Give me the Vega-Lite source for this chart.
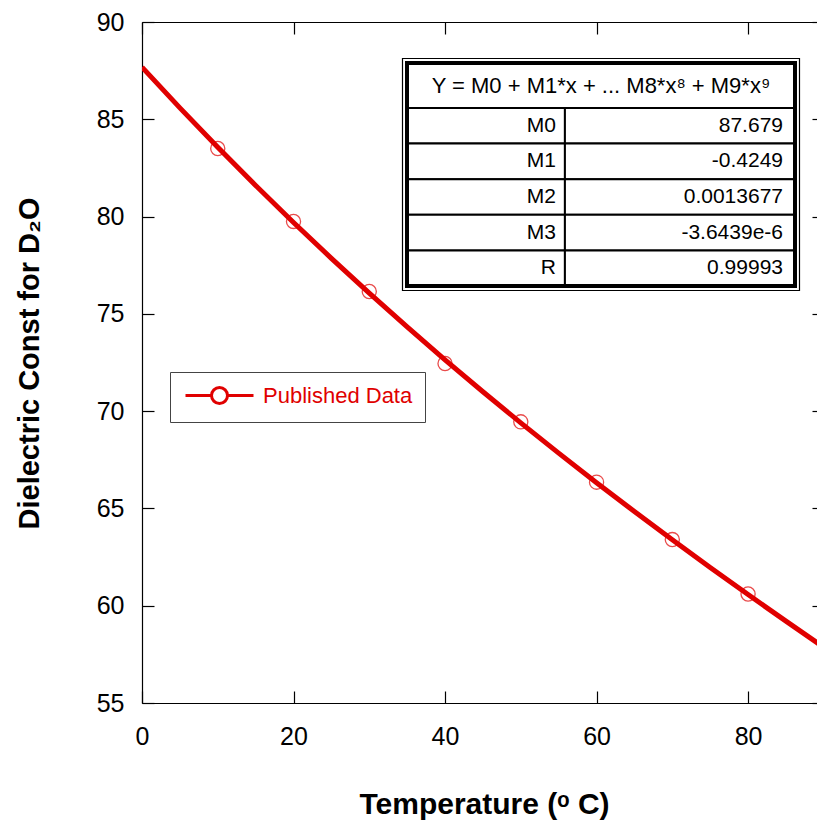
{
  "$schema": "https://vega.github.io/schema/vega-lite/v6.json",
  "width": 675,
  "height": 681,
  "autosize": {"type": "none"},
  "padding": {"left": 142, "top": 22, "right": 0, "bottom": 117},
  "background": "white",
  "config": {
    "view": {"stroke": null},
    "font": "Liberation Sans",
    "axis": {
      "domainColor": "#000",
      "tickColor": "#000",
      "labelColor": "#000",
      "titleColor": "#000",
      "labelFont": "Liberation Sans",
      "titleFont": "Liberation Sans",
      "grid": false,
      "domainWidth": 1.2,
      "tickWidth": 1.2
    }
  },
  "datasets": {
    "curve": [
      {"t": 0, "e": 87.679}, {"t": 5, "e": 85.588}, {"t": 10, "e": 83.563}, {"t": 15, "e": 81.601},
      {"t": 20, "e": 79.699}, {"t": 25, "e": 77.854}, {"t": 30, "e": 76.065}, {"t": 35, "e": 74.327},
      {"t": 40, "e": 72.638}, {"t": 45, "e": 70.996}, {"t": 50, "e": 69.398}, {"t": 55, "e": 67.841},
      {"t": 60, "e": 66.322}, {"t": 65, "e": 64.838}, {"t": 70, "e": 63.388}, {"t": 75, "e": 61.968},
      {"t": 80, "e": 60.575}, {"t": 85, "e": 59.206}, {"t": 90, "e": 57.86}
    ],
    "pub": [
      {"t": 10, "e": 83.5}, {"t": 20, "e": 79.75}, {"t": 30, "e": 76.15}, {"t": 40, "e": 72.45},
      {"t": 50, "e": 69.45}, {"t": 60, "e": 66.35}, {"t": 70, "e": 63.4}, {"t": 80, "e": 60.6}
    ],
    "table": [
      {"row": "hdr", "label": "Y = M0 + M1*x + ... M8*x⁸ + M9*x⁹", "value": ""},
      {"row": "M0", "label": "M0", "value": "87.679"},
      {"row": "M1", "label": "M1", "value": "-0.4249"},
      {"row": "M2", "label": "M2", "value": "0.0013677"},
      {"row": "M3", "label": "M3", "value": "-3.6439e-6"},
      {"row": "R", "label": "R", "value": "0.99993"}
    ]
  },
  "layer": [
    {
      "layer": [
        {
          "data": {"name": "curve"},
          "mark": {"type": "line", "color": "#e00000", "strokeWidth": 5, "clip": true},
          "encoding": {
            "x": {
              "field": "t", "type": "quantitative",
              "scale": {"domain": [0, 89.1], "nice": false, "zero": false},
              "axis": {
                "orient": "bottom", "values": [0, 20, 40, 60, 80], "tickSize": -12,
                "labelPadding": 33, "labelFontSize": 25, "labelFlush": false,
                "title": "Temperature (ᵒ C)", "titleFontSize": 30, "titleFontWeight": "bold",
                "titleX": 342, "titleY": 110, "titleBaseline": "alphabetic", "titleAlign": "center"
              }
            },
            "y": {
              "field": "e", "type": "quantitative",
              "scale": {"domain": [55, 90], "nice": false, "zero": false},
              "axis": {
                "orient": "left", "values": [55, 60, 65, 70, 75, 80, 85, 90], "tickSize": -12,
                "labelPadding": 30, "labelFontSize": 25, "labelFlush": false,
                "title": "Dielectric Const for D₂O", "titleFontSize": 29, "titleFontWeight": "bold",
                "titleAngle": 270, "titleX": -104, "titleY": 341, "titleBaseline": "alphabetic", "titleAlign": "center"
              }
            }
          }
        },
        {
          "data": {"name": "pub"},
          "mark": {"type": "point", "shape": "circle", "filled": false, "size": 200, "strokeWidth": 1.3},
          "encoding": {
            "x": {
              "field": "t", "type": "quantitative",
              "scale": {"domain": [0, 89.1], "nice": false, "zero": false},
              "axis": {"orient": "top", "values": [0, 20, 40, 60, 80], "tickSize": -12, "labels": false, "title": null}
            },
            "y": {
              "field": "e", "type": "quantitative",
              "scale": {"domain": [55, 90], "nice": false, "zero": false},
              "axis": {"orient": "right", "values": [55, 60, 65, 70, 75, 80, 85, 90], "tickSize": -5, "labels": false, "domain": false, "title": null}
            },
            "color": {
              "datum": "Published Data", "type": "nominal",
              "scale": {"range": ["#e00000"]},
              "legend": {
                "orient": "none", "legendX": 28, "legendY": 350, "title": null,
                "symbolType": "M-0.8,0L1.8,0M3.4,0L6,0M3.4,0A0.8,0.8,0,1,1,1.8,0A0.8,0.8,0,1,1,3.4,0",
                "symbolSize": 400, "labelFontSize": 22, "labelColor": "#e00000", "labelFont": "Liberation Sans",
                "labelOffset": 58, "padding": 12, "strokeColor": "#444", "fillColor": "white",
                "symbolStrokeWidth": 3, "symbolStrokeColor": "#e00000", "symbolOpacity": 1
              }
            }
          }
        }
      ],
      "resolve": {"axis": {"x": "independent", "y": "independent"}}
    },
    {
      "data": {"name": "table"},
      "transform": [{"filter": "datum.row !== 'hdr'"}],
      "layer": [
        {
          "mark": {"type": "rect", "fill": "white", "stroke": "#000", "strokeWidth": 2},
          "encoding": {
            "x": {"datum": 0, "type": "quantitative", "scale": {"domain": [0, 1], "range": [265, 653], "nice": false, "zero": false}, "axis": null},
            "x2": {"datum": 0.407},
            "y": {"field": "row", "type": "nominal", "scale": {"type": "band", "domain": ["M0", "M1", "M2", "M3", "R"], "range": [86, 264], "paddingInner": 0, "paddingOuter": 0}, "axis": null}
          }
        },
        {
          "mark": {"type": "rect", "fill": "white", "stroke": "#000", "strokeWidth": 2},
          "encoding": {
            "x": {"datum": 0.407, "type": "quantitative", "axis": null},
            "x2": {"datum": 1},
            "y": {"field": "row", "type": "nominal", "axis": null}
          }
        },
        {
          "mark": {"type": "text", "align": "right", "dx": -9, "fontSize": 21, "font": "Liberation Sans", "color": "#000"},
          "encoding": {
            "x": {"datum": 0.407, "type": "quantitative", "axis": null},
            "y": {"field": "row", "type": "nominal", "axis": null},
            "text": {"field": "label"}
          }
        },
        {
          "mark": {"type": "text", "align": "right", "dx": -12, "fontSize": 21, "font": "Liberation Sans", "color": "#000"},
          "encoding": {
            "x": {"datum": 1, "type": "quantitative", "axis": null},
            "y": {"field": "row", "type": "nominal", "axis": null},
            "text": {"field": "value"}
          }
        }
      ]
    },
    {
      "data": {"name": "table"},
      "transform": [{"filter": "datum.row === 'hdr'"}],
      "layer": [
        {
          "mark": {"type": "rect", "fill": "white", "stroke": "#000", "strokeWidth": 2},
          "encoding": {
            "x": {"datum": 0, "type": "quantitative", "scale": {"domain": [0, 1], "range": [265, 653], "nice": false, "zero": false}, "axis": null},
            "x2": {"datum": 1},
            "y": {"datum": 0, "type": "quantitative", "scale": {"domain": [0, 1], "range": [41, 264], "nice": false, "zero": false}, "axis": null},
            "y2": {"datum": 0.2018}
          }
        },
        {
          "mark": {"type": "text", "align": "center", "fontSize": 22, "font": "Liberation Sans", "color": "#000", "baseline": "middle"},
          "encoding": {
            "x": {"datum": 0.5, "type": "quantitative", "axis": null},
            "y": {"datum": 0.1009, "type": "quantitative", "axis": null},
            "text": {"field": "label"}
          }
        },
        {
          "mark": {"type": "rect", "fill": "transparent", "stroke": "#000", "strokeWidth": 4},
          "encoding": {
            "x": {"datum": 0, "type": "quantitative", "axis": null},
            "x2": {"datum": 1},
            "y": {"datum": 0, "type": "quantitative", "axis": null},
            "y2": {"datum": 1}
          }
        },
        {
          "mark": {"type": "rect", "fill": "transparent", "stroke": "#000", "strokeWidth": 1.2, "xOffset": -4.5, "x2Offset": 4.5, "yOffset": -4.5, "y2Offset": 4.5},
          "encoding": {
            "x": {"datum": 0, "type": "quantitative", "axis": null},
            "x2": {"datum": 1},
            "y": {"datum": 0, "type": "quantitative", "axis": null},
            "y2": {"datum": 1}
          }
        }
      ]
    }
  ],
  "resolve": {"scale": {"x": "independent", "y": "independent"}}
}
